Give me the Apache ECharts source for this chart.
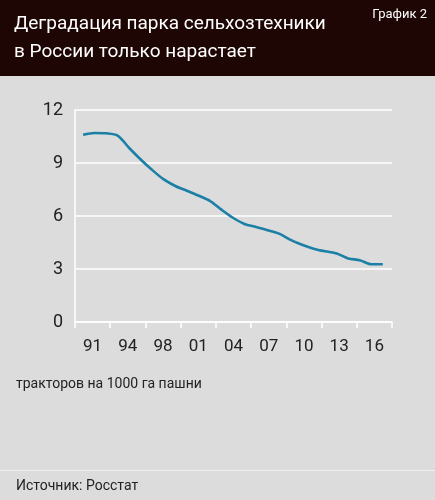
<!DOCTYPE html><html><head><meta charset="utf-8"><script src="https://cdn.jsdelivr.net/npm/echarts@6/dist/echarts.min.js"></script>
<style>body{margin:0;background:#dcdcdc}#c{width:435px;height:500px}</style></head><body><div id="c"></div><script>
const years=[1990,1991,1992,1993,1994,1995,1996,1997,1998,1999,2000,2001,2002,2003,2004,2005,2006,2007,2008,2009,2010,2011,2012,2013,2014,2015,2016];
const values=[10.6,10.7,10.68,10.55,9.85,9.2,8.6,8.07,7.7,7.43,7.16,6.86,6.36,5.9,5.55,5.38,5.2,5.0,4.65,4.37,4.15,4.0,3.88,3.6,3.5,3.27,3.27];
const tickLabels=['91','94','98','01','04','07','10','13','16'];
const F='"Liberation Sans Narrow","Roboto",sans-serif';
const chart=echarts.init(document.getElementById('c'));
chart.setOption({
backgroundColor:'#dcdcdc',animation:false,
graphic:[
{type:'rect',shape:{x:0,y:0,width:435,height:76},style:{fill:'#1e0604'}},
{type:'text',left:14,top:10,style:{text:'Деградация парка сельхозтехники\nв России только нарастает',fill:'#fff',font:'19px '+F,lineHeight:28}},
{type:'text',right:8,top:8,style:{text:'График 2',fill:'#fff',font:'13px '+F}},
{type:'text',left:16,top:377,style:{text:'тракторов на 1000 га пашни',fill:'#222',font:'14px '+F}},
{type:'rect',shape:{x:0,y:470,width:435,height:1},style:{fill:'#eeeeee'}},
{type:'text',left:16,top:479,style:{text:'Источник: Росстат',fill:'#222',font:'14px '+F}}
],
grid:{left:75,right:43,top:110,bottom:178},
xAxis:[
{type:'value',min:1989.3,max:2016.8,show:false},
{type:'category',position:'bottom',data:tickLabels,boundaryGap:true,
 axisLine:{lineStyle:{color:'#fff',width:1.5}},axisTick:{show:true,length:6,lineStyle:{color:'#fff',width:1.5}},
 axisLabel:{color:'#222',fontSize:17,fontFamily:F,margin:16}}
],
yAxis:{type:'value',min:0,max:12,interval:3,
 axisLine:{show:true,lineStyle:{color:'#fff',width:1.5}},axisTick:{show:false},
 splitLine:{lineStyle:{color:'#fff',width:1.5}},
 axisLabel:{color:'#222',fontSize:18,fontFamily:F,margin:12}},
series:[{type:'line',xAxisIndex:0,data:years.map((y,i)=>[y,values[i]]),showSymbol:false,smooth:0.3,
 lineStyle:{color:'#1b7fa6',width:2.6}}]
});
</script></body></html>
